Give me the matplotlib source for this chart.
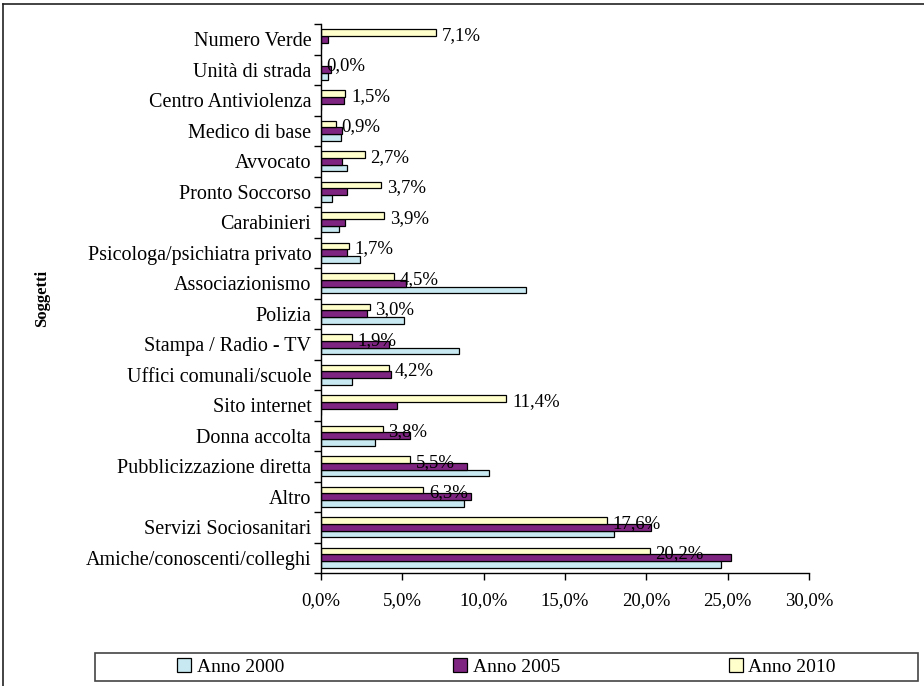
import matplotlib
matplotlib.use("Agg")
import matplotlib.pyplot as plt
from matplotlib.ticker import FixedLocator, FuncFormatter, NullFormatter
from matplotlib.lines import Line2D
from matplotlib.patches import Rectangle
import numpy as np

categories = ["Numero Verde", "Unità di strada", "Centro Antiviolenza", "Medico di base",
              "Avvocato", "Pronto Soccorso", "Carabinieri", "Psicologa/psichiatra privato",
              "Associazionismo", "Polizia", "Stampa / Radio - TV", "Uffici comunali/scuole",
              "Sito internet", "Donna accolta", "Pubblicizzazione diretta", "Altro",
              "Servizi Sociosanitari", "Amiche/conoscenti/colleghi"]
anno_2000 = [0.0, 0.4, 0.0, 1.2, 1.6, 0.7, 1.1, 2.4, 12.6, 5.1, 8.5, 1.9, 0.0, 3.3, 10.3, 8.8, 18.0, 24.6]
anno_2005 = [0.4, 0.6, 1.4, 1.3, 1.3, 1.6, 1.5, 1.6, 5.2, 2.8, 4.2, 4.3, 4.7, 5.5, 9.0, 9.2, 20.3, 25.2]
anno_2010 = [7.1, 0.0, 1.5, 0.9, 2.7, 3.7, 3.9, 1.7, 4.5, 3.0, 1.9, 4.2, 11.4, 3.8, 5.5, 6.3, 17.6, 20.2]
series_names = ["Anno 2000", "Anno 2005", "Anno 2010"]
x_ticks = [0, 5, 10, 15, 20, 25, 30]

colors = ["#C8E9F1", "#7E2481", "#FFFFCC"]
FONT = "Liberation Serif"
plt.rcParams["font.family"] = [FONT, "DejaVu Serif"]
FS_CAT = 14.5
FS_NUM = 13.5
FS_LEG = 14

fig = plt.figure(figsize=(9.24, 6.86), dpi=100)
ax = fig.add_axes([321/924, 1-573/686, (809-321)/924, (573-24)/686])

n = len(categories)
ypos = np.arange(n)[::-1].astype(float)
h = 0.222
bars = []
for k, (vals, c, name) in enumerate(zip([anno_2000, anno_2005, anno_2010], colors, series_names)):
    b = ax.barh(ypos + (k - 1) * h, vals, height=h, color=c, edgecolor="black",
                linewidth=0.9, label=name)
    bars.append(b)

# value labels for 2010
for y, v in zip(ypos, anno_2010):
    ax.annotate(f"{v:.1f}%".replace(".", ","), xy=(v, y + h - 0.1), xytext=(4, 0),
                textcoords="offset points", ha="left", va="center", fontsize=FS_NUM,
                fontfamily=FONT, color="black")

ax.set_xlim(0, 30)
ax.set_ylim(-0.5, n - 0.5)
ax.set_xticks(x_ticks)
ax.xaxis.set_major_formatter(FuncFormatter(lambda v, p: f"{v:.1f}%".replace(".", ",")))
ax.tick_params(axis="x", direction="out", length=5, width=1, labelsize=FS_NUM, pad=9)

ax.yaxis.set_major_locator(FixedLocator(np.arange(-0.5, n, 1.0)))
ax.yaxis.set_major_formatter(NullFormatter())
ax.yaxis.set_minor_locator(FixedLocator(ypos))
ax.yaxis.set_minor_formatter(FuncFormatter(lambda v, p: categories[n - 1 - int(round(v))]))
ax.tick_params(axis="y", which="major", direction="out", length=5, width=1)
ax.tick_params(axis="y", which="minor", length=0, labelsize=FS_CAT, pad=7)

for s in ["top", "right"]:
    ax.spines[s].set_visible(False)
for s in ["left", "bottom"]:
    ax.spines[s].set_linewidth(1)
    ax.spines[s].set_color("black")

ax.set_ylabel("Soggetti", fontsize=12, fontweight="bold", fontfamily=FONT)
ax.yaxis.set_label_coords((50 - 321) / 488, 0.5)

# legend box
fig.patches.append(Rectangle((95/924, 1-681/686), (918-95)/924, 28/686,
                             transform=fig.transFigure, fill=False,
                             edgecolor="#444444", linewidth=1.2))
fig.legend(handles=bars, labels=series_names, loc="center",
           bbox_to_anchor=((95+918)/2/924, 1-667/686), ncol=3, frameon=False,
           fontsize=FS_LEG, handlelength=0.7, handleheight=0.7, handletextpad=0.3,
           columnspacing=8.7, borderpad=0)

# outer border
fig.add_artist(Line2D([3/924, 1], [1-4/686, 1-4/686], transform=fig.transFigure,
                      color="#222222", linewidth=1.2))
fig.add_artist(Line2D([3/924, 3/924], [0, 1-4/686], transform=fig.transFigure,
                      color="#222222", linewidth=1.2))

fig.savefig("out.png", dpi=100)
